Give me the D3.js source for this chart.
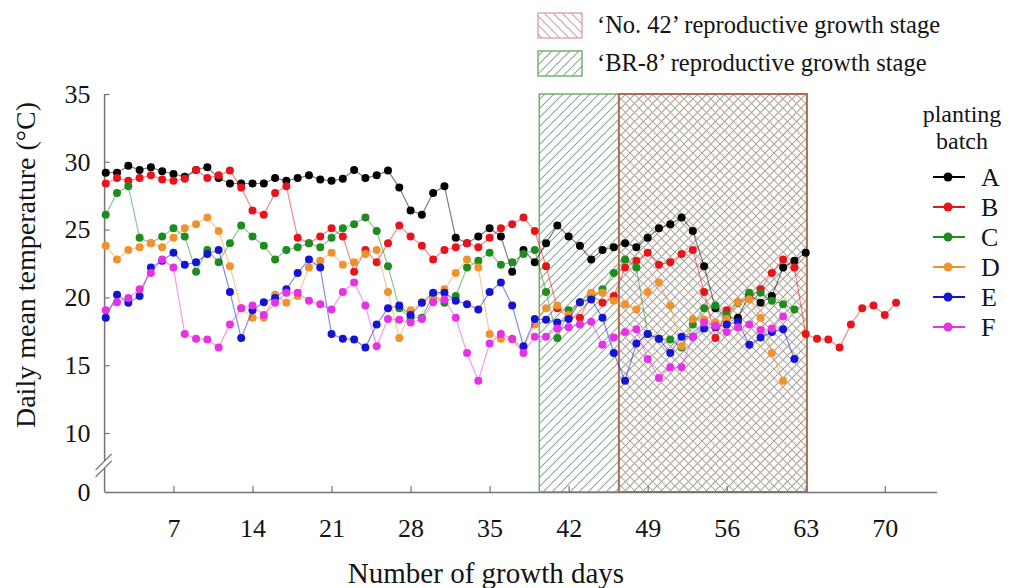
<!DOCTYPE html>
<html><head><meta charset="utf-8">
<script src="https://cdn.jsdelivr.net/npm/d3@7"></script>
<style>
body{margin:0;background:#fff}
svg{display:block}
text{font-family:"Liberation Serif","Times New Roman",serif;fill:#141414}
</style>
</head><body>
<svg id="chart" width="1012" height="588"></svg>
<script>
// ---------- data ----------
const batchNames = ["A","B","C","D","E","F"];
const seriesA = [29.2,29.2,29.7,29.4,29.6,29.3,29.1,28.9,29.4,29.6,28.8,28.4,28.4,28.4,28.4,28.8,28.6,28.8,29.0,28.7,
  28.6,28.75,29.4,28.8,29.0,29.35,28.1,26.4,26.1,27.7,28.2,24.4,24.0,24.5,25.1,24.5,21.9,23.5,22.6,24.0,
  25.3,24.5,23.8,22.8,23.5,23.7,24.0,23.7,24.4,25.1,25.4,25.9,24.9,22.3,19.2,18.5,18.5,20.2,19.6,20.1,
  22.2,22.7,23.3];
const seriesB = [28.4,28.8,28.6,28.8,29.0,28.7,28.6,28.75,29.4,28.8,29.0,29.35,28.1,26.4,26.1,27.7,28.2,24.4,24.0,24.5,
  25.1,24.5,21.9,23.5,22.6,24.0,25.3,24.5,23.8,22.8,23.5,23.7,24.0,23.7,24.4,25.1,25.4,25.9,24.9,22.3,
  19.2,18.5,18.5,20.2,19.6,20.1,22.2,22.7,23.3,22.4,22.6,23.2,23.5,20.4,17.0,19.05,19.65,19.95,20.6,21.8,
  22.8,22.2,17.3,16.95,16.9,16.3,18.0,19.2,19.4,18.7,19.6];
const seriesC = [26.1,27.7,28.2,24.4,24.0,24.5,25.1,24.5,21.9,23.5,22.6,24.0,25.3,24.5,23.8,22.8,23.5,23.7,24.0,23.7,
  24.4,25.1,25.4,25.9,24.9,22.3,19.2,18.5,18.5,20.2,19.6,20.1,22.2,22.7,23.3,22.4,22.6,23.2,23.5,20.4,
  17.0,19.05,19.65,19.95,20.6,21.8,22.8,22.2,17.3,16.95,16.9,16.3,18.0,19.2,19.4,18.7,19.6,20.35,20.35,19.75,
  19.5,19.1];
const seriesD = [23.8,22.8,23.5,23.7,24.0,23.7,24.4,25.1,25.4,25.9,24.9,22.3,19.2,18.5,18.5,20.2,19.6,20.1,22.2,22.7,
  23.3,22.4,22.6,23.2,23.5,20.4,17.0,19.05,19.65,19.95,20.6,21.8,22.8,22.2,17.3,16.95,16.9,16.3,18.0,19.2,
  19.4,18.7,19.6,20.35,20.35,19.75,19.5,19.1,20.4,21.1,19.4,16.4,18.4,18.35,18.15,18.4,19.65,19.85,18.5,15.9,
  13.85];
const seriesE = [18.5,20.2,19.6,20.1,22.2,22.7,23.3,22.4,22.6,23.2,23.5,20.4,17.0,19.05,19.65,19.95,20.6,21.8,22.8,22.2,
  17.3,16.95,16.9,16.3,18.0,19.2,19.4,18.7,19.6,20.35,20.35,19.75,19.5,19.1,20.4,21.1,19.4,16.4,18.4,18.35,
  18.15,18.4,19.65,19.85,18.5,15.9,13.85,16.6,17.3,16.95,15.9,17.1,17.1,17.7,17.8,18.0,18.2,16.5,17.05,17.45,
  17.65,15.45];
const seriesF = [19.05,19.65,19.95,20.6,21.8,22.8,22.2,17.3,16.95,16.9,16.3,18.0,19.2,19.4,18.7,19.6,20.35,20.35,19.75,19.5,
  19.1,20.4,21.1,19.4,16.4,18.4,18.35,18.15,18.4,19.65,19.85,18.5,15.9,13.85,16.6,17.3,16.95,15.9,17.1,17.1,
  17.7,17.8,18.0,18.2,16.5,17.05,17.45,17.65,15.45,14.05,14.85,14.85,17.1,18.15,17.9,17.45,17.8,18.0,17.6,17.7,
  18.6];
const xTicks = [7,14,21,28,35,42,49,56,63,70];
const yTicks = [0,10,15,20,25,30,35];
const stageBR8 = [39.4, 63.1];     // days
const stageNo42 = [46.45, 63.1];   // days
const stageLabels = ["\u2018No. 42\u2019 reproductive growth stage", "\u2018BR-8\u2019 reproductive growth stage"];
const colors = ["#000000","#e8141b","#1e8c1e","#f0922e","#1414d2","#e632e6"];

const allSeries = [seriesA,seriesB,seriesC,seriesD,seriesE,seriesF];

// ---------- layout ----------
const svg = d3.select("#chart");
const x = d3.scaleLinear().domain([0.9, 74.6]).range([104.6, 936.7]);
const y = d3.scaleLinear().domain([0, 10, 35]).range([492, 433, 94]);
const axisColor = "#757575";

// patterns
const defs = svg.append("defs");
defs.append("pattern").attr("id","hGreen").attr("patternUnits","userSpaceOnUse")
  .attr("width",9).attr("height",9)
  .append("path").attr("d","M0,9 L9,0 M-2,2 L2,-2 M7,11 L11,7")
  .attr("stroke","#8fa98f").attr("stroke-width",1.1);
defs.append("pattern").attr("id","hRed").attr("patternUnits","userSpaceOnUse")
  .attr("width",9).attr("height",9)
  .append("path").attr("d","M0,0 L9,9 M-2,7 L2,11 M7,-2 L11,2")
  .attr("stroke","#c9a3a3").attr("stroke-width",1.1);

// stage boxes
svg.append("rect")
  .attr("x", x(stageBR8[0])).attr("y", y(35))
  .attr("width", x(stageBR8[1]) - x(stageBR8[0])).attr("height", y(0) - y(35))
  .attr("fill","url(#hGreen)").attr("stroke","#6fae6f").attr("stroke-width",1.5);
svg.append("rect")
  .attr("x", x(stageNo42[0])).attr("y", y(35))
  .attr("width", x(stageNo42[1]) - x(stageNo42[0])).attr("height", y(0) - y(35))
  .attr("fill","url(#hRed)").attr("stroke","#a8704e").attr("stroke-width",2);

// x axis
const xAxis = d3.axisBottom(x).tickValues(xTicks).tickSize(-6).tickSizeOuter(0).tickPadding(27);
const gx = svg.append("g").attr("transform",`translate(0,${y(0)})`).call(xAxis);
gx.select(".domain").attr("stroke",axisColor).attr("stroke-width",1.5);
gx.selectAll(".tick line").attr("stroke",axisColor).attr("stroke-width",1.2);
gx.selectAll(".tick text").attr("font-size",26).attr("font-family","Liberation Serif").attr("fill","#141414");

// y axis with break
const yAxis = d3.axisLeft(y).tickValues(yTicks).tickSize(-5).tickSizeOuter(0).tickPadding(14);
const gy = svg.append("g").attr("transform",`translate(${x(0.9)},0)`).call(yAxis);
gy.select(".domain").remove();
gy.selectAll(".tick line").attr("stroke",axisColor).attr("stroke-width",1.2);
gy.selectAll(".tick text").attr("font-size",26).attr("font-family","Liberation Serif").attr("fill","#141414");
const ax0 = x(0.9);
svg.append("line").attr("x1",ax0).attr("x2",ax0).attr("y1",y(35)).attr("y2",461)
  .attr("stroke",axisColor).attr("stroke-width",1.5);
svg.append("line").attr("x1",ax0).attr("x2",ax0).attr("y1",468).attr("y2",y(0))
  .attr("stroke",axisColor).attr("stroke-width",1.5);
svg.append("line").attr("x1",ax0-9).attr("y1",470).attr("x2",ax0+7).attr("y2",454)
  .attr("stroke",axisColor).attr("stroke-width",1.2);
svg.append("line").attr("x1",ax0-9).attr("y1",477).attr("x2",ax0+7).attr("y2",461)
  .attr("stroke",axisColor).attr("stroke-width",1.2);

// series
const line = d3.line().x((d,i)=>x(i+1)).y(d=>y(d));
allSeries.forEach((s,k)=>{
  const g = svg.append("g");
  g.append("path").datum(s).attr("d",line).attr("fill","none")
    .attr("stroke",colors[k]).attr("stroke-opacity",0.5).attr("stroke-width",1.2);
  g.selectAll("circle").data(s).join("circle")
    .attr("cx",(d,i)=>x(i+1)).attr("cy",d=>y(d)).attr("r",4).attr("fill",colors[k]);
});

// axis titles
svg.append("text").attr("x",486).attr("y",583).attr("text-anchor","middle")
  .attr("font-size",29).text("Number of growth days");
svg.append("text").attr("transform","translate(35,265) rotate(-90)").attr("text-anchor","middle")
  .attr("font-size",28).text("Daily mean temperature (\u00B0C)");

// top legend
const tl = svg.append("g");
[["url(#hRed)","#e0a8a8",13],["url(#hGreen)","#74b474",51]].forEach((p,i)=>{
  tl.append("rect").attr("x",538).attr("y",p[2]).attr("width",44).attr("height",25)
    .attr("fill",p[0]).attr("stroke",p[1]).attr("stroke-width",1.5);
  tl.append("text").attr("x",597).attr("y",p[2]+20).attr("font-size",24.5).text(stageLabels[i]);
});

// right legend
svg.append("text").attr("x",962).attr("y",122).attr("text-anchor","middle").attr("font-size",24).text("planting");
svg.append("text").attr("x",962).attr("y",149).attr("text-anchor","middle").attr("font-size",24).text("batch");
batchNames.forEach((n,i)=>{
  const cy = 177 + i*30;
  svg.append("line").attr("x1",933).attr("x2",965).attr("y1",cy).attr("y2",cy)
    .attr("stroke",colors[i]).attr("stroke-width",2);
  svg.append("circle").attr("cx",948).attr("cy",cy).attr("r",4.5).attr("fill",colors[i]);
  svg.append("text").attr("x",981).attr("y",cy+9).attr("font-size",26).text(n);
});
</script>
</body></html>
